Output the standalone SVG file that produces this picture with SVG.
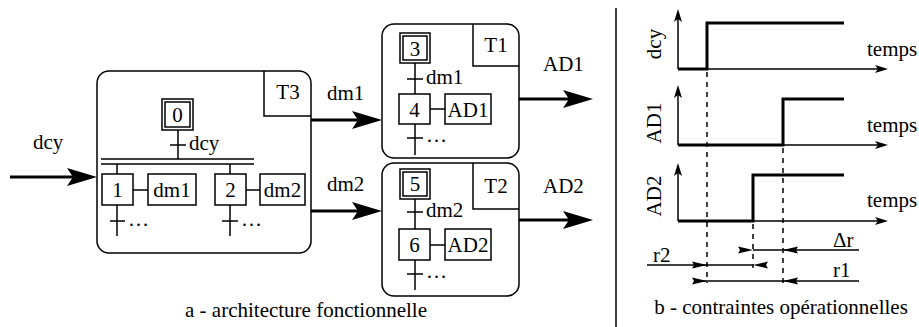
<svg xmlns="http://www.w3.org/2000/svg" xmlns:xlink="http://www.w3.org/1999/xlink" width="919" height="327" viewBox="0 0 919 327" font-family="'Liberation Serif', 'Times New Roman', Times, 'DejaVu Serif', serif" font-size="21">
<style>
text{font-family:'Liberation Serif','Times New Roman',Times,'DejaVu Serif',serif;font-size:21px;fill:#000}
.m{text-anchor:middle}
.box{fill:none;stroke:#000;stroke-width:1.5}
.ln{fill:none;stroke:#000;stroke-width:1.5}
.big{fill:none;stroke:#000;stroke-width:3.2}
.sig{fill:none;stroke:#000;stroke-width:3;stroke-linejoin:miter}
.dash{fill:none;stroke:#000;stroke-width:1.5;stroke-dasharray:5,5}
.ah{fill:#000;stroke:none}
</style>
<defs>
<marker id="bigArrow" markerUnits="userSpaceOnUse" markerWidth="31" markerHeight="19" viewBox="0 0 31 19" refX="20" refY="9.5" orient="auto">
<path d="M0,0.5 L30,9.5 L0,18.5 L6,9.5 z" fill="#000"/>
</marker>
<marker id="axArrow" markerUnits="userSpaceOnUse" markerWidth="14" markerHeight="9" viewBox="0 0 14 9" refX="9" refY="4.5" orient="auto">
<path d="M0,0.5 L13,4.5 L0,8.5 L3,4.5 z" fill="#000"/>
</marker>
<path id="ahR" class="ah" d="M-15,-3.5 L0,0 L-15,3.5 L-13,0 z"/>
<path id="ahL" class="ah" d="M15,-3.5 L0,0 L15,3.5 L13,0 z"/>
</defs>

<!-- Left part: functional architecture -->
<g id="T3">
<rect class="box" x="97" y="71" width="214" height="182" rx="12"/>
<path class="ln" d="M264,71 V116 H311"/>
<text class="m" x="288" y="99">T3</text>
</g>
<g id="step0">
<rect class="box" x="162" y="99" width="31" height="31"/>
<rect class="box" x="165" y="102" width="25" height="25"/>
<text class="m" x="177.5" y="122">0</text>
</g>
<g id="trans-dcy">
<path class="ln" d="M178,130 V159 M170,145 H186"/>
<text x="189" y="150">dcy</text>
</g>
<g id="divergence">
<path class="ln" d="M101,159 H254 M101,164 H254 M117,164 V174 M230,164 V174"/>
</g>
<g id="step1">
<rect class="box" x="102" y="174" width="31" height="31"/>
<text class="m" x="117.5" y="197">1</text>
<path class="ln" d="M133,190 H148"/>
<rect class="box" x="148" y="174" width="48" height="31"/>
<text class="m" x="172" y="197">dm1</text>
<path class="ln" d="M117,205 V236 M110,221 H125"/>
<text x="128" y="226">…</text>
</g>
<g id="step2">
<rect class="box" x="215" y="174" width="31" height="31"/>
<text class="m" x="230.5" y="197">2</text>
<path class="ln" d="M246,190 H260"/>
<rect class="box" x="260" y="174" width="45" height="31"/>
<text class="m" x="282.5" y="197">dm2</text>
<path class="ln" d="M230,205 V236 M222,221 H238"/>
<text x="241" y="226">…</text>
</g>

<g id="T1">
<rect class="box" x="382" y="24" width="137" height="134" rx="12"/>
<path class="ln" d="M473,24 V66 H519"/>
<text class="m" x="496" y="52">T1</text>
<rect class="box" x="400" y="33" width="30" height="30"/>
<rect class="box" x="403" y="36" width="24" height="24"/>
<text class="m" x="415" y="56">3</text>
<path class="ln" d="M415,63 V94 M407,79 H423"/>
<text x="426" y="84">dm1</text>
<rect class="box" x="399" y="94" width="31" height="30"/>
<text class="m" x="414.5" y="117">4</text>
<path class="ln" d="M430,109 H445"/>
<rect class="box" x="445" y="94" width="46" height="30"/>
<text class="m" x="468" y="117">AD1</text>
<path class="ln" d="M415,124 V155 M407,138 H423"/>
<text x="426" y="142">…</text>
</g>

<g id="T2">
<rect class="box" x="382" y="163" width="137" height="133" rx="12"/>
<path class="ln" d="M473,163 V209 H519"/>
<text class="m" x="496" y="193">T2</text>
<rect class="box" x="400" y="169" width="30" height="30"/>
<rect class="box" x="403" y="172" width="24" height="24"/>
<text class="m" x="415" y="191">5</text>
<path class="ln" d="M415,199 V229 M407,212 H423"/>
<text x="426" y="217">dm2</text>
<rect class="box" x="399" y="229" width="31" height="31"/>
<text class="m" x="414.5" y="252">6</text>
<path class="ln" d="M430,245 H445"/>
<rect class="box" x="445" y="229" width="46" height="31"/>
<text class="m" x="468" y="252">AD2</text>
<path class="ln" d="M415,260 V290 M407,274 H423"/>
<text x="426" y="278">…</text>
</g>

<g id="connectors">
<line class="big" x1="10" y1="177" x2="87" y2="177" marker-end="url(#bigArrow)"/>
<text x="33" y="149">dcy</text>
<line class="big" x1="311" y1="120" x2="372" y2="120" marker-end="url(#bigArrow)"/>
<text x="327" y="100">dm1</text>
<line class="big" x1="311" y1="211" x2="372" y2="211" marker-end="url(#bigArrow)"/>
<text x="327" y="191">dm2</text>
<line class="big" x1="519" y1="99" x2="583" y2="99" marker-end="url(#bigArrow)"/>
<text x="543" y="71">AD1</text>
<line class="big" x1="519" y1="220" x2="583" y2="220" marker-end="url(#bigArrow)"/>
<text x="543" y="193">AD2</text>
</g>

<text class="m" x="306" y="317">a - architecture fonctionnelle</text>

<!-- divider -->
<line class="ln" x1="616" y1="8" x2="616" y2="327"/>

<!-- Right part: operational constraints -->
<g id="chart-dcy">
<line class="ln" x1="678" y1="69" x2="678" y2="13" marker-end="url(#axArrow)"/>
<line class="ln" x1="678" y1="69" x2="884" y2="69" marker-end="url(#axArrow)"/>
<polyline class="sig" points="678,69 707,69 707,23 844,23"/>
<text class="m" transform="translate(661,44) rotate(-90)">dcy</text>
<text x="867" y="56">temps</text>
</g>
<g id="chart-AD1">
<line class="ln" x1="678" y1="145" x2="678" y2="89" marker-end="url(#axArrow)"/>
<line class="ln" x1="678" y1="145" x2="884" y2="145" marker-end="url(#axArrow)"/>
<polyline class="sig" points="678,145 783,145 783,99 844,99"/>
<text class="m" transform="translate(661,123) rotate(-90)">AD1</text>
<text x="867" y="132">temps</text>
</g>
<g id="chart-AD2">
<line class="ln" x1="678" y1="221" x2="678" y2="167" marker-end="url(#axArrow)"/>
<line class="ln" x1="678" y1="221" x2="884" y2="221" marker-end="url(#axArrow)"/>
<polyline class="sig" points="678,221 753,221 753,175 844,175"/>
<text class="m" transform="translate(661,196) rotate(-90)">AD2</text>
<text x="867" y="207">temps</text>
</g>

<g id="guides">
<line class="dash" x1="707" y1="72" x2="707" y2="283"/>
<line class="dash" x1="783" y1="148" x2="783" y2="283"/>
<line class="dash" x1="753" y1="224" x2="753" y2="268"/>
</g>

<g id="dimensions">
<line class="ln" x1="753" y1="250" x2="859" y2="250"/>
<use xlink:href="#ahR" x="753" y="250"/>
<use xlink:href="#ahL" x="783" y="250"/>
<text x="833" y="247">Δr</text>
<line class="ln" x1="647" y1="265" x2="753" y2="265"/>
<use xlink:href="#ahR" x="707" y="265"/>
<use xlink:href="#ahL" x="753" y="265"/>
<text x="653" y="262">r2</text>
<line class="ln" x1="694" y1="281" x2="859" y2="281"/>
<use xlink:href="#ahR" x="707" y="281"/>
<use xlink:href="#ahL" x="783" y="281"/>
<text x="833" y="277">r1</text>
</g>

<text class="m" x="781" y="314">b - contraintes opérationnelles</text>
</svg>
